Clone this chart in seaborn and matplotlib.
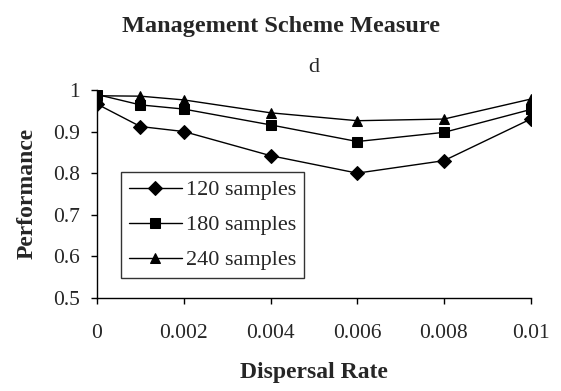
import matplotlib
matplotlib.use("Agg")
import matplotlib.pyplot as plt
import seaborn as sns
import pandas as pd

rates = [0, 0.001, 0.002, 0.004, 0.006, 0.008, 0.01]
s120 = [0.966, 0.912, 0.900, 0.842, 0.800, 0.830, 0.930]
s180 = [0.989, 0.964, 0.954, 0.916, 0.876, 0.898, 0.953]
s240 = [0.986, 0.985, 0.976, 0.945, 0.926, 0.930, 0.978]
labels = ["120 samples", "180 samples", "240 samples"]
xticks = [0, 0.002, 0.004, 0.006, 0.008, 0.01]
xticklabels = ["0", "0.002", "0.004", "0.006", "0.008", "0.01"]
yticks = [0.5, 0.6, 0.7, 0.8, 0.9, 1.0]
yticklabels = ["0.5", "0.6", "0.7", "0.8", "0.9", "1"]

rows = []
for lab, vals in zip(labels, [s120, s180, s240]):
    for r, v in zip(rates, vals):
        rows.append({"rate": r, "perf": v, "series": lab})
df = pd.DataFrame(rows)

sns.set_style("ticks")
plt.rcParams["font.family"] = ["Liberation Serif", "DejaVu Serif"]

fig = plt.figure(figsize=(5.61, 3.91), dpi=100)
ax = fig.add_axes([0.173, 0.238, 0.773, 0.532])

sns.lineplot(data=df, x="rate", y="perf", hue="series", style="series",
             markers={"120 samples": "D", "180 samples": "s", "240 samples": "^"},
             dashes=False, palette=["black"] * 3, markersize=7, linewidth=1,
             markeredgecolor="black", ax=ax)

ax.set_xlim(0, 0.01)
ax.set_ylim(0.5, 1.0)
ax.set_xticks(xticks)
ax.set_xticklabels(xticklabels)
ax.set_yticks(yticks)
ax.set_yticklabels(yticklabels)
ax.tick_params(labelsize=15.5, length=4.5, width=1, color="black")
ax.tick_params(axis="x", pad=14)
ax.tick_params(axis="y", pad=8)
for s in ["top", "right"]:
    ax.spines[s].set_visible(False)
for s in ["left", "bottom"]:
    ax.spines[s].set_color("black")
    ax.spines[s].set_linewidth(1)

ax.set_xlabel("Dispersal Rate", fontsize=17, fontweight="bold", labelpad=14)
ax.set_ylabel("Performance", fontsize=17, fontweight="bold", labelpad=11)
ax.set_title("d", fontsize=16, pad=13)
fig.suptitle("Management Scheme Measure", fontsize=17.5, fontweight="bold", y=0.959)

leg = ax.legend(loc="lower left", bbox_to_anchor=(0.055, 0.095), fontsize=16,
                frameon=True, fancybox=False, edgecolor="black", handlelength=2.4,
                borderpad=0.35, labelspacing=0.65, handletextpad=0.2,
                borderaxespad=0)
leg.get_frame().set_linewidth(1)

fig.savefig("out.png", dpi=100)
